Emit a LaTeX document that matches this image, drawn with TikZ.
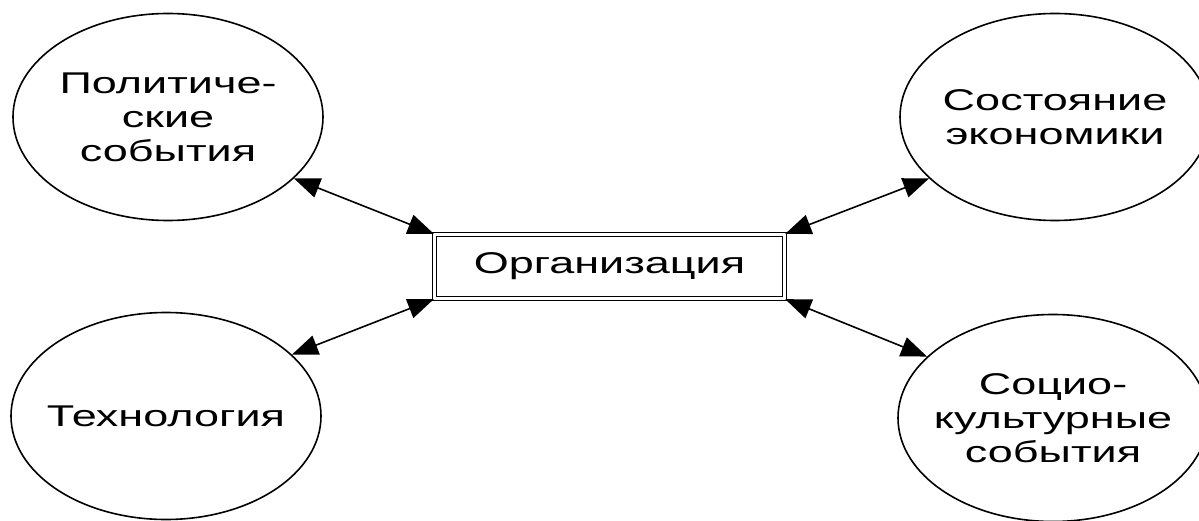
\documentclass[tikz,border=0pt]{standalone}
\usepackage{fontspec}
\newfontfamily\labfont[FakeStretch=1.5]{Liberation Sans}
\usetikzlibrary{shapes.geometric,arrows.meta}
\begin{document}
\begin{tikzpicture}[x=1pt,y=-1pt,
  lab/.style={font=\labfont\fontsize{30}{34}\selectfont, align=center},
  env/.style={ellipse, draw=black, line width=1.6pt, minimum width=310pt, minimum height=207pt, inner sep=0pt},
  orgbox/.style={rectangle, draw=black, double, double distance=3pt, line width=1.3pt, minimum width=350pt, minimum height=64pt, inner sep=0pt, lab},
  link/.style={line width=1.6pt, {Triangle[length=26pt,width=20pt]}-{Triangle[length=26pt,width=20pt]}}]
\useasboundingbox (0,0) rectangle (1199,521);
\node[orgbox] (org) at (609.5,266.5) {Организация};
\node[env, label={[lab]center:Политиче-\\ские\\события}] (pol) at (168,117) {};
\node[env, label={[lab]center:Технология}] (tech) at (166,416) {};
\node[env, label={[lab]center:Состояние\\экономики}] (econ) at (1055,117) {};
\node[env, label={[lab]center:Социо-\\культурные\\события}] (soc) at (1053,418) {};
\draw[link] (pol.-26.6) -- (org.north west);
\draw[link] (tech.26) -- (org.south west);
\draw[link] (econ.-154) -- (org.north east);
\draw[link] (soc.154) -- (org.south east);
\end{tikzpicture}
\end{document}
